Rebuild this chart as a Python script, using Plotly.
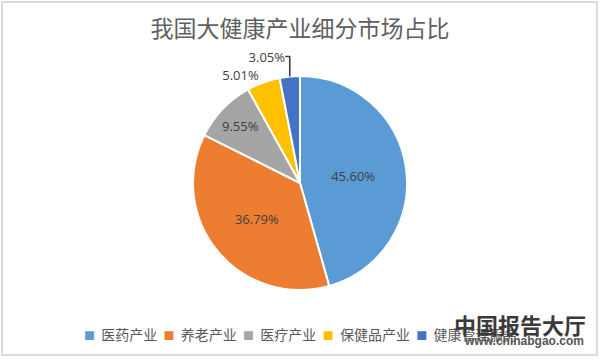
import plotly.graph_objects as go

categories = ["医药产业", "养老产业", "医疗产业", "保健品产业", "健康管理服务"]
shares = [45.60, 36.79, 9.55, 5.01, 3.05]
colors = ["#5B9BD5", "#ED7D31", "#A5A5A5", "#FFC000", "#4472C4"]
text_pos = ["inside", "inside", "inside", "outside", "outside"]

W, H = 600, 360

fig = go.Figure(go.Pie(
    labels=categories,
    values=shares,
    sort=False,
    direction="clockwise",
    rotation=0,
    marker=dict(colors=colors, line=dict(color="white", width=2)),
    texttemplate="%{value:.2f}%",
    textposition=text_pos,
    insidetextorientation="horizontal",
    textfont=dict(family="Open Sans, DejaVu Sans, sans-serif", size=13, color="#404040"),
    hoverinfo="label+percent",
    showlegend=False,
    domain=dict(x=[193 / W, 407 / W], y=[1 - 290 / H, 1 - 76 / H]),
))

# manual legend (small squares + labels), built from the category/colour lists
entries = []
for name, col in zip(categories, colors):
    entries.append(
        f"<span style='font-size:11px;color:{col}'>■</span>  {name}"
    )
legend_text = "  ".join(entries)

fig.update_layout(
    width=W, height=H,
    margin=dict(l=0, r=0, t=0, b=0),
    paper_bgcolor="white",
    plot_bgcolor="white",
    title=dict(text="我国大健康产业细分市场占比", x=0.5, xanchor="center", y=1 - 29 / H, yanchor="middle",
               font=dict(family="Noto Sans CJK SC", size=23, color="#606060")),
    shapes=[dict(type="rect", xref="paper", yref="paper", x0=2 / W, x1=597 / W, y0=1 - 355 / H, y1=1 - 2 / H,
                 line=dict(color="#D0D0D0", width=1.5))],
    annotations=[
        dict(text=legend_text, x=300 / W, y=1 - 334 / H, xref="paper", yref="paper", xanchor="center",
             yanchor="middle", showarrow=False,
             font=dict(family="Noto Sans CJK SC", size=14, color="#595959")),
        dict(text="<b>中国报告大厅</b>", x=588 / W, y=1 - 324 / H, xref="paper", yref="paper", xanchor="right",
             yanchor="middle", showarrow=False,
             font=dict(family="Noto Sans CJK SC", size=22, color="#3a3a3a")),
        dict(text="<b>www.chinabgao.com</b>", x=586 / W, y=1 - 341 / H, xref="paper", yref="paper",
             xanchor="right", yanchor="middle", showarrow=False,
             font=dict(family="Liberation Sans", size=12, color="#555555")),
    ],
)

fig.write_html("out.html", config={"displayModeBar": False},
               post_script="document.body.style.margin='0';")
